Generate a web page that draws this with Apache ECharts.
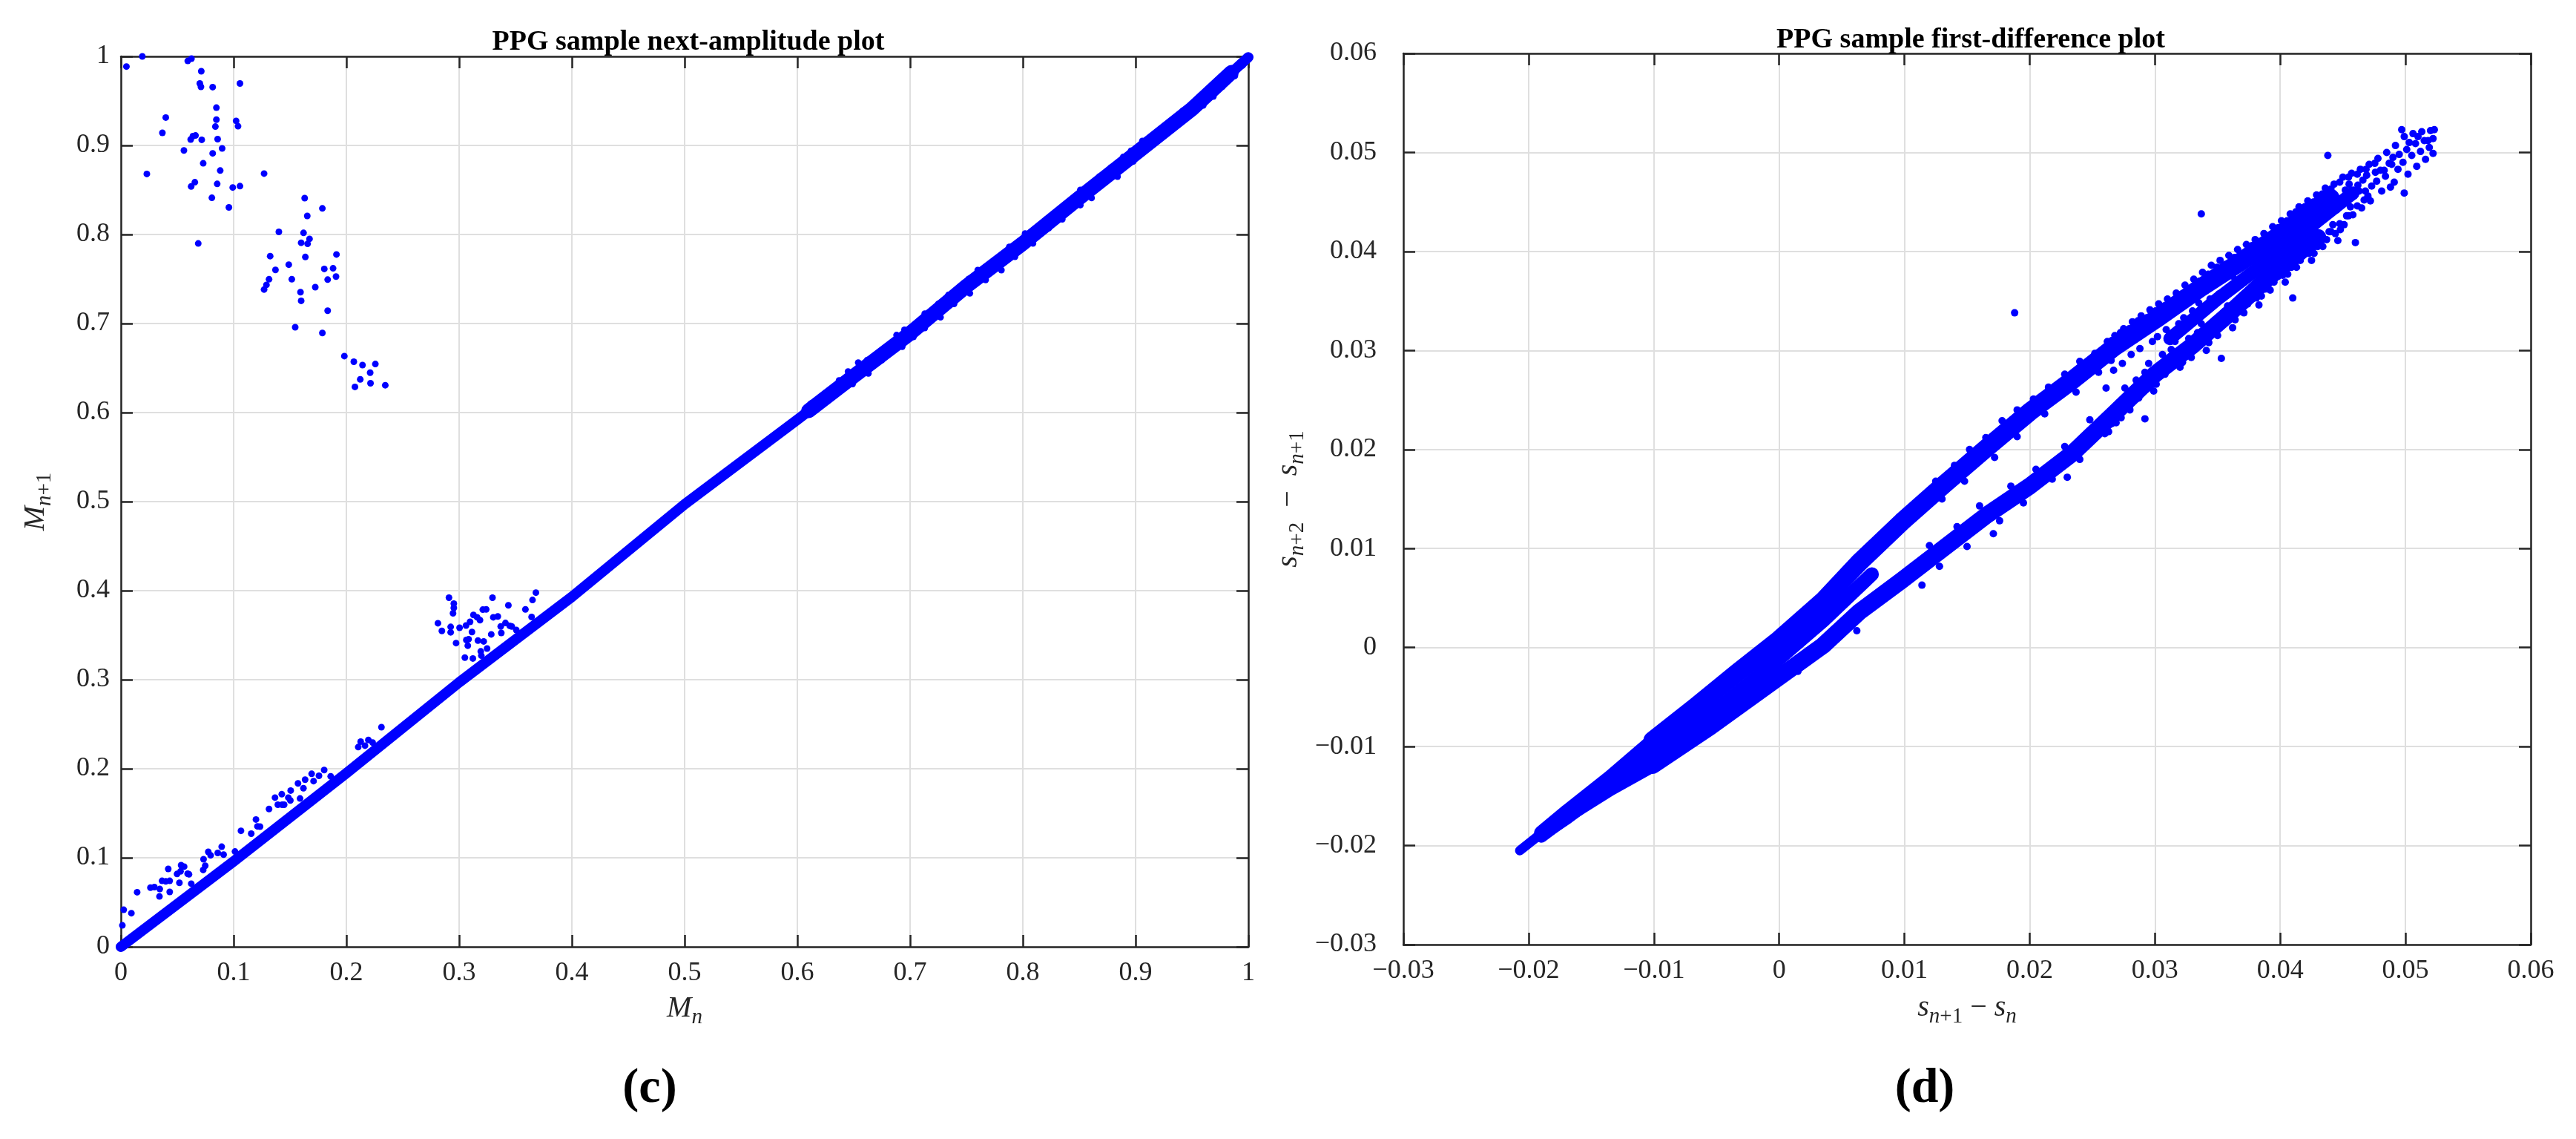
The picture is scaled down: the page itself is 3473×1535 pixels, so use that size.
<!DOCTYPE html>
<html>
<head>
<meta charset="utf-8">
<script src="https://cdn.jsdelivr.net/npm/echarts@6/dist/echarts.min.js"></script>
<style>
html,body{margin:0;padding:0;background:#fff;}
#chart{width:3473px;height:1535px;}
</style>
</head>
<body>
<div id="chart"></div>
<script>
// ---------------- DATA ----------------
// (c) next-amplitude plot : tick labels
const leftTickLabels = ['0','0.1','0.2','0.3','0.4','0.5','0.6','0.7','0.8','0.9','1'];
// (d) first-difference plot : tick labels
const rightTickLabels = ['\u22120.03','\u22120.02','\u22120.01','0','0.01','0.02','0.03','0.04','0.05','0.06'];

// dense diagonal band of M_{n+1} vs M_n (centre of the packed points)
const leftBandCore = [[0,0],[0.1,0.096],[0.2,0.195],[0.3,0.297],[0.4,0.393],[0.5,0.497],[0.6,0.592],[0.7,0.689],[0.8,0.79],[0.9,0.891],[0.95,0.941],[1,0.999]];
// thicker upper part of the band
const leftBandWide = [[0.61,0.602],[0.65,0.641],[0.70,0.689],[0.75,0.742],[0.80,0.790],[0.85,0.841],[0.90,0.891],[0.95,0.941],[0.985,0.982]];
// ragged points on the upper edge of the band
const leftEdgeUpper = [[0.654,0.656],[0.662,0.659],[0.673,0.664],[0.680,0.671],[0.688,0.687],[0.695,0.693],[0.705,0.695],[0.713,0.711],[0.725,0.722],[0.734,0.732],[0.742,0.738],[0.752,0.750],[0.760,0.760],[0.767,0.763],[0.776,0.772],[0.788,0.786],[0.802,0.801],[0.814,0.805],[0.821,0.817],[0.830,0.824],[0.841,0.836],[0.851,0.850],[0.859,0.854],[0.868,0.865],[0.878,0.875],[0.889,0.887],[0.896,0.894],[0.906,0.905],[0.913,0.909],[0.927,0.921],[0.935,0.924],[0.942,0.939],[0.952,0.939],[0.962,0.951],[0.969,0.966],[0.977,0.966],[0.983,0.978],[0.989,0.985],[0.995,0.990],[1.0,0.997],[0.612,0.610],[0.625,0.622],[0.637,0.636],[0.645,0.646]];
// ragged points on the lower edge of the band
const leftEdgeLower = [[0.649,0.632],[0.663,0.644],[0.675,0.659],[0.693,0.674],[0.703,0.685],[0.713,0.695],[0.727,0.707],[0.739,0.722],[0.753,0.734],[0.767,0.749],[0.781,0.760],[0.793,0.775],[0.809,0.790],[0.823,0.807],[0.835,0.817],[0.851,0.833],[0.861,0.841],[0.873,0.859],[0.884,0.865],[0.898,0.882],[0.910,0.897],[0.927,0.915],[0.938,0.924],[0.945,0.933],[0.960,0.945],[0.969,0.955],[0.988,0.978]];
// scattered points in the upper-left corner
const leftOutliersHigh = [[0.0049,0.9886],[0.019,1.0],[0.023,0.868],[0.0368,0.9142],[0.0398,0.9313],[0.0559,0.8944],[0.0593,0.9949],[0.0626,0.9975],[0.0619,0.9067],[0.0639,0.9104],[0.0662,0.9112],[0.0623,0.8539],[0.0656,0.8587],[0.0686,0.7899],[0.07,0.9696],[0.071,0.9658],[0.0713,0.9833],[0.0717,0.9063],[0.073,0.8799],[0.0807,0.8412],[0.0814,0.9655],[0.0814,0.8911],[0.0838,0.9212],[0.0847,0.9424],[0.0847,0.929],[0.0854,0.8568],[0.0858,0.9071],[0.0881,0.8718],[0.0898,0.8967],[0.0958,0.8304],[0.0992,0.8528],[0.1022,0.9276],[0.1039,0.9216],[0.1056,0.9696],[0.1056,0.8543],[0.127,0.8684],[0.127,0.7382],[0.1291,0.7434],[0.1314,0.7497],[0.1324,0.7757],[0.1371,0.7602],[0.1401,0.8029],[0.1489,0.7661],[0.1516,0.7497],[0.1546,0.6958],[0.1593,0.7352],[0.1599,0.7907],[0.1599,0.7255],[0.162,0.8018],[0.163,0.8408],[0.1636,0.7747],[0.1653,0.8208],[0.1656,0.7895],[0.1673,0.7951],[0.1724,0.7408],[0.1787,0.8293],[0.1787,0.6894],[0.1804,0.7613],[0.1834,0.7493],[0.1834,0.7144],[0.1882,0.762],[0.1908,0.7527],[0.1912,0.7776],[0.1982,0.6634],[0.2066,0.6571],[0.2076,0.6288],[0.2123,0.6373],[0.2143,0.6533],[0.2211,0.6448],[0.2214,0.6329],[0.2257,0.6545],[0.2345,0.6307]];
// scattered points just above the band (0 - 0.37)
const leftOutliersLow = [[0.0013,0.0241],[0.0025,0.0416],[0.0093,0.0378],[0.0144,0.0613],[0.0262,0.0665],[0.0297,0.0671],[0.0345,0.0649],[0.0342,0.0566],[0.0365,0.0741],[0.0398,0.0735],[0.0433,0.0741],[0.0433,0.0617],[0.042,0.0875],[0.0498,0.0818],[0.0529,0.0847],[0.0534,0.0917],[0.0561,0.0901],[0.0519,0.0719],[0.0592,0.0821],[0.0604,0.0814],[0.0624,0.0709],[0.0733,0.0983],[0.073,0.0863],[0.0748,0.091],[0.0775,0.1067],[0.0796,0.1028],[0.0859,0.1054],[0.0894,0.1124],[0.0911,0.1035],[0.1012,0.107],[0.1065,0.1303],[0.1156,0.1271],[0.1198,0.143],[0.1211,0.1353],[0.1234,0.135],[0.1314,0.1548],[0.1367,0.1676],[0.1392,0.1596],[0.1427,0.1714],[0.143,0.1596],[0.1448,0.1596],[0.1485,0.1676],[0.1503,0.1644],[0.1506,0.1755],[0.1571,0.1835],[0.1589,0.1666],[0.1619,0.1781],[0.1634,0.1877],[0.1692,0.1943],[0.1709,0.1861],[0.1757,0.1921],[0.1803,0.1985],[0.1861,0.1915],[0.2105,0.2243],[0.2127,0.2304],[0.2165,0.2259],[0.2195,0.2323],[0.2233,0.2294],[0.2311,0.2467],[0.2812,0.3634],[0.2847,0.3548],[0.291,0.3921],[0.2925,0.3593],[0.2925,0.3532],[0.2953,0.3854],[0.2953,0.3806],[0.2946,0.3746],[0.2973,0.3411],[0.3004,0.3583],[0.3051,0.3248],[0.3061,0.3608],[0.3064,0.3446],[0.3077,0.3382],[0.3084,0.3455],[0.3097,0.365],[0.3114,0.3535],[0.3122,0.3238],[0.3127,0.3727],[0.316,0.3701],[0.3167,0.3439],[0.3185,0.3669],[0.3192,0.3318],[0.3197,0.327],[0.3218,0.343],[0.321,0.3787],[0.324,0.379],[0.3248,0.335],[0.3285,0.3509],[0.3296,0.3921],[0.3303,0.3701],[0.3343,0.371],[0.3369,0.3598],[0.3374,0.3525],[0.3411,0.3637],[0.3437,0.3835],[0.3449,0.3605],[0.3467,0.3598],[0.3507,0.3558],[0.3588,0.379],[0.3643,0.3704],[0.3651,0.3895],[0.3681,0.3978]];

// (d) packed tracks of s_{n+2}-s_{n+1} vs s_{n+1}-s_n
const rightTip = [[-0.0207,-0.0205],[-0.0180,-0.0178]];
const rightUpperEarly = [[-0.0190,-0.0187],[-0.0169,-0.0165],[-0.0135,-0.0131],[-0.0101,-0.0094]];
const rightUpperTrack = [[-0.0101,-0.0094],[-0.0067,-0.0060],[-0.0033,-0.0025],[0.0000,0.0008],[0.0035,0.0047],[0.0064,0.0086],[0.0098,0.0127],[0.0132,0.0165],[0.0166,0.0202],[0.0200,0.0238],[0.0234,0.0270],[0.0268,0.0304],[0.0300,0.0331],[0.0336,0.0363],[0.0370,0.0391],[0.0400,0.0417],[0.0430,0.0445],[0.0440,0.0454]];
const rightInnerTrack = [[-0.0190,-0.0189],[-0.0170,-0.0172],[-0.0135,-0.0139],[-0.0101,-0.0108],[-0.0055,-0.0068],[-0.0010,-0.0022],[0.0035,0.0027],[0.0074,0.0074]];
const rightLowerEarly = [[-0.0190,-0.0190],[-0.0169,-0.0170],[-0.0135,-0.0143],[-0.0101,-0.0119]];
const rightLowerTrack = [[-0.0101,-0.0119],[-0.0055,-0.0080],[-0.0010,-0.0039],[0.0035,0.0002],[0.0064,0.0036],[0.0098,0.0068],[0.0132,0.0101],[0.0166,0.0134],[0.0200,0.0163],[0.0234,0.0196],[0.0268,0.0237],[0.0300,0.0276],[0.0330,0.0305],[0.0360,0.0338],[0.0390,0.0373],[0.0420,0.0404],[0.0430,0.0414]];
// middle of the loose cloud where the two tracks merge
const rightCloudMid = [[0.0312,0.0312],[0.0350,0.0352],[0.0400,0.0400],[0.0430,0.0431],[0.0458,0.0459]];
// ragged points on the edges of the two tracks
const rightEdgePoints = [[0.0125,0.0168],[0.0140,0.0184],[0.0152,0.0200],[0.0165,0.0212],[0.0178,0.0229],[0.0190,0.0240],[0.0203,0.0251],[0.0215,0.0263],[0.0228,0.0276],[0.0240,0.0289],[0.0252,0.0297],[0.0130,0.0150],[0.0148,0.0168],[0.0172,0.0192],[0.0190,0.0213],[0.0212,0.0236],[0.0237,0.0258],[0.0255,0.0278],[0.0120,0.0103],[0.0142,0.0122],[0.0160,0.0143],[0.0185,0.0163],[0.0205,0.0180],[0.0228,0.0203],[0.0248,0.0230],[0.0128,0.0082],[0.0150,0.0102],[0.0176,0.0128],[0.0195,0.0146],[0.0218,0.0170],[0.0240,0.0190],[0.0260,0.0216]];
// loose cloud at the upper-right end
const rightCloud = [[0.0262,0.0309],[0.0265,0.0290],[0.0261,0.0262],[0.0264,0.0231],[0.0263,0.0218],[0.0268,0.0315],[0.0270,0.0301],[0.0267,0.0280],[0.0271,0.0247],[0.0269,0.0227],[0.0275,0.0322],[0.0277,0.0306],[0.0274,0.0287],[0.0276,0.0262],[0.0278,0.0241],[0.0273,0.0232],[0.0282,0.0329],[0.0284,0.0311],[0.0281,0.0296],[0.0285,0.0270],[0.0283,0.0250],[0.0280,0.0240],[0.0289,0.0335],[0.0291,0.0319],[0.0288,0.0302],[0.0292,0.0278],[0.0290,0.0258],[0.0287,0.0252],[0.0296,0.0341],[0.0294,0.0325],[0.0298,0.0309],[0.0295,0.0287],[0.0297,0.0268],[0.0299,0.0259],[0.0303,0.0347],[0.0305,0.0330],[0.0302,0.0314],[0.0306,0.0296],[0.0304,0.0277],[0.0301,0.0266],[0.0310,0.0352],[0.0312,0.0337],[0.0309,0.0321],[0.0313,0.0301],[0.0311,0.0286],[0.0308,0.0276],[0.0317,0.0358],[0.0315,0.0344],[0.0319,0.0327],[0.0316,0.0309],[0.0318,0.0292],[0.0320,0.0283],[0.0324,0.0366],[0.0326,0.0350],[0.0323,0.0333],[0.0327,0.0312],[0.0325,0.0297],[0.0322,0.0288],[0.0331,0.0372],[0.0333,0.0356],[0.0330,0.0340],[0.0334,0.0318],[0.0332,0.0304],[0.0329,0.0293],[0.0338,0.0379],[0.0336,0.0362],[0.0340,0.0344],[0.0337,0.0327],[0.0339,0.0311],[0.0341,0.0300],[0.0345,0.0386],[0.0347,0.0369],[0.0344,0.0352],[0.0348,0.0331],[0.0346,0.0318],[0.0343,0.0308],[0.0352,0.0391],[0.0354,0.0375],[0.0351,0.0357],[0.0355,0.0339],[0.0353,0.0325],[0.0350,0.0315],[0.0359,0.0396],[0.0357,0.0381],[0.0361,0.0362],[0.0358,0.0345],[0.0360,0.0333],[0.0362,0.0323],[0.0366,0.0402],[0.0368,0.0387],[0.0365,0.0370],[0.0369,0.0352],[0.0367,0.0339],[0.0364,0.0331],[0.0373,0.0407],[0.0375,0.0393],[0.0372,0.0376],[0.0376,0.0356],[0.0374,0.0347],[0.0371,0.0338],[0.0380,0.0412],[0.0378,0.0399],[0.0382,0.0381],[0.0379,0.0364],[0.0381,0.0353],[0.0383,0.0346],[0.0387,0.0418],[0.0389,0.0404],[0.0386,0.0388],[0.0390,0.0370],[0.0388,0.0362],[0.0385,0.0355],[0.0394,0.0425],[0.0396,0.0410],[0.0393,0.0395],[0.0397,0.0376],[0.0395,0.0369],[0.0392,0.0361],[0.0401,0.0431],[0.0399,0.0417],[0.0403,0.0401],[0.0400,0.0386],[0.0402,0.0376],[0.0404,0.0369],[0.0408,0.0438],[0.0410,0.0424],[0.0407,0.0408],[0.0411,0.0392],[0.0409,0.0384],[0.0406,0.0377],[0.0415,0.0445],[0.0417,0.0430],[0.0414,0.0415],[0.0418,0.0399],[0.0416,0.0391],[0.0413,0.0384],[0.0422,0.0451],[0.0420,0.0437],[0.0424,0.0421],[0.0421,0.0405],[0.0423,0.0398],[0.0425,0.0391],[0.0429,0.0457],[0.0431,0.0443],[0.0428,0.0428],[0.0432,0.0413],[0.0430,0.0405],[0.0427,0.0398],[0.0436,0.0464],[0.0438,0.0450],[0.0435,0.0435],[0.0439,0.0420],[0.0437,0.0412],[0.0434,0.0405],[0.0443,0.0468],[0.0441,0.0456],[0.0445,0.0442],[0.0442,0.0427],[0.0444,0.0418],[0.0446,0.0411],[0.0450,0.0475],[0.0452,0.0462],[0.0449,0.0449],[0.0453,0.0436],[0.0451,0.0427],[0.0448,0.0422],[0.0457,0.0479],[0.0455,0.0468],[0.0459,0.0456],[0.0456,0.0445],[0.0458,0.0437],[0.0464,0.0483],[0.0466,0.0472],[0.0463,0.0461],[0.0467,0.0452],[0.0465,0.0444],[0.0471,0.0488],[0.0469,0.0477],[0.0473,0.0466],[0.0470,0.0456],[0.0472,0.0451],[0.0478,0.0494],[0.0480,0.0482],[0.0477,0.0471],[0.0481,0.0461],[0.0485,0.0500],[0.0487,0.0489],[0.0484,0.0476],[0.0488,0.0465],[0.0492,0.0507],[0.0490,0.0495],[0.0494,0.0483],[0.0491,0.0470],[0.0499,0.0516],[0.0501,0.0503],[0.0498,0.0490],[0.0502,0.0478],[0.0497,0.0523],[0.0506,0.0519],[0.0508,0.0509],[0.0505,0.0497],[0.0509,0.0486],[0.0513,0.0521],[0.0515,0.0512],[0.0512,0.0501],[0.0516,0.0493],[0.0520,0.0522],[0.0522,0.0514],[0.0519,0.0505],[0.0523,0.0523],
  [0.02655,0.0310],[0.02725,0.0318],[0.02795,0.0322],[0.02865,0.0330],[0.02935,0.0333],[0.03005,0.0340],[0.03075,0.0345],[0.03145,0.0349],[0.03215,0.0357],[0.03285,0.0362],[0.03355,0.0370],[0.03425,0.0377],[0.03495,0.0384],[0.03565,0.0387],[0.03635,0.0394],[0.03705,0.0397],[0.03775,0.0406],[0.03845,0.0410],[0.03915,0.0416],[0.03985,0.0424],[0.04055,0.0431],[0.04125,0.0440],[0.04195,0.0445],[0.04265,0.0450],[0.04335,0.0458],[0.04405,0.0463],[0.04475,0.0470],[0.04545,0.0475],[0.04615,0.0478],[0.04685,0.0483],[0.04755,0.0489],
  [0.02655,0.0226],[0.02725,0.0236],[0.02795,0.0242],[0.02865,0.0254],[0.02935,0.0261],[0.03005,0.0270],[0.03075,0.0279],[0.03145,0.0285],[0.03215,0.0292],[0.03285,0.0297],[0.03355,0.0306],[0.03425,0.0313],[0.03495,0.0320],[0.03565,0.0330],[0.03635,0.0336],[0.03705,0.0345],[0.03775,0.0352],[0.03845,0.0361],[0.03915,0.0369],[0.03985,0.0375],[0.04055,0.0384],[0.04125,0.0392],[0.04195,0.0398],[0.04265,0.0406],[0.04335,0.0412],[0.04405,0.0420],[0.04475,0.0428],[0.04545,0.0436],[0.04615,0.0446],
  [0.0335,0.0348],[0.0362,0.0375],[0.0385,0.0394],[0.0405,0.0412],[0.0425,0.0432],[0.0445,0.0450],[0.0462,0.0467],[0.0476,0.0480],[0.0468,0.0461],[0.0483,0.0482],[0.0495,0.0498],[0.0503,0.0510],[0.0510,0.0516],[0.0518,0.0512],[0.0489,0.0488]];
// isolated points
const rightOutliers = [[0.0337,0.0438],[0.0438,0.0497],[0.0410,0.0353],[0.0460,0.0409],[0.0353,0.0292],[0.0292,0.0231],[0.0499,0.0459],[0.0522,0.0499],[0.0188,0.0338],[0.0230,0.0172],[0.0171,0.0115],[0.0114,0.0063],[0.0062,0.0017],[0.0015,-0.0024]];

// ---------------- CHART ----------------
const FONT = "'Liberation Serif','DejaVu Serif',serif";
const AX = '#262626';
const GRIDC = '#dfdfdf';
const BLUE = '#0000ff';

const nameRich = {
  i:{fontFamily:FONT,fontStyle:'italic',fontSize:40,lineHeight:54,color:AX},
  s:{fontFamily:FONT,fontStyle:'italic',fontSize:29,lineHeight:29,verticalAlign:'bottom',color:AX},
  r:{fontFamily:FONT,fontSize:29,lineHeight:29,verticalAlign:'bottom',color:AX},
  m:{fontFamily:FONT,fontSize:40,lineHeight:54,color:AX}
};

function mainAxis(gridIndex, position, min, max, interval, fmt, name, nameGap, margin) {
  return {
    type:'value', gridIndex, position, min, max, interval,
    axisLine:{show:true, onZero:false, lineStyle:{color:AX, width:2.5}},
    axisTick:{show:true, inside:true, length:16, lineStyle:{color:AX, width:2.5}},
    axisLabel:{show:true, margin, formatter:fmt, fontFamily:FONT, fontSize:36, color:AX},
    splitLine:{show:true, lineStyle:{color:GRIDC, width:2}},
    name, nameLocation:'middle', nameGap,
    nameTextStyle:{rich:nameRich}
  };
}
function boxAxis(gridIndex, position, min, max, interval) {
  return {
    type:'value', gridIndex, position, min, max, interval,
    axisLine:{show:true, onZero:false, lineStyle:{color:AX, width:2.5}},
    axisTick:{show:true, inside:true, length:16, lineStyle:{color:AX, width:2.5}},
    axisLabel:{show:false}, splitLine:{show:false}
  };
}
const fmtLeft = v => leftTickLabels[Math.round(v / 0.1)];
const fmtRight = v => rightTickLabels[Math.round((v + 0.03) / 0.01)];

function lineSeries(xi, yi, data, width) {
  return {type:'line', xAxisIndex:xi, yAxisIndex:yi, data, symbol:'none', clip:false,
    lineStyle:{color:BLUE, width, cap:'round', join:'round'}, z:3, silent:true};
}
function scatterSeries(xi, yi, data, size) {
  return {type:'scatter', xAxisIndex:xi, yAxisIndex:yi, data, symbolSize:size, clip:false,
    itemStyle:{color:BLUE, opacity:1}, z:4, silent:true};
}

const chart = echarts.init(document.getElementById('chart'), null, {renderer:'canvas'});
chart.setOption({
  animation:false,
  backgroundColor:'#ffffff',
  title:[
    {text:'PPG sample next-amplitude plot', left:923, top:33, textAlign:'center',
     textStyle:{fontFamily:FONT, fontWeight:'bold', fontSize:38, color:'#000'}},
    {text:'PPG sample first-difference plot', left:2652, top:30, textAlign:'center',
     textStyle:{fontFamily:FONT, fontWeight:'bold', fontSize:38, color:'#000'}},
    {text:'{p|(}{b|c}{p|)}', left:871, top:1430, textAlign:'center',
     textStyle:{rich:{p:{fontFamily:FONT,fontSize:66,color:'#000'}, b:{fontFamily:FONT,fontSize:66,fontWeight:'bold',color:'#000'}}}},
    {text:'{p|(}{b|d}{p|)}', left:2590, top:1430, textAlign:'center',
     textStyle:{rich:{p:{fontFamily:FONT,fontSize:66,color:'#000'}, b:{fontFamily:FONT,fontSize:66,fontWeight:'bold',color:'#000'}}}}
  ],
  grid:[
    {left:163, top:76, width:1520, height:1200},
    {left:1892, top:72, width:1520, height:1201}
  ],
  xAxis:[
    mainAxis(0,'bottom',0,1,0.1,fmtLeft,'{i|M}{s|n}',56,18),
    boxAxis(0,'top',0,1,0.1),
    mainAxis(1,'bottom',-0.03,0.06,0.01,fmtRight,'{i|s}{s|n}{r|+1}{m| \u2212 }{i|s}{s|n}',58,18),
    boxAxis(1,'top',-0.03,0.06,0.01)
  ],
  yAxis:[
    mainAxis(0,'left',0,1,0.1,fmtLeft,'{i|M}{s|n}{r|+1}',88,15),
    boxAxis(0,'right',0,1,0.1),
    mainAxis(1,'left',-0.03,0.06,0.01,fmtRight,'{i|s}{s|n}{r|+2}{m|  \u2212  }{i|s}{s|n}{r|+1}',128,36),
    boxAxis(1,'right',-0.03,0.06,0.01)
  ],
  series:[
    lineSeries(0,0,leftBandCore,14),
    lineSeries(0,0,leftBandWide,20),
    scatterSeries(0,0,leftEdgeUpper,9),
    scatterSeries(0,0,leftEdgeLower,9),
    scatterSeries(0,0,leftOutliersHigh,9),
    scatterSeries(0,0,leftOutliersLow,9),
    lineSeries(2,2,rightTip,13),
    lineSeries(2,2,rightUpperEarly,19),
    lineSeries(2,2,rightUpperTrack,25),
    lineSeries(2,2,rightInnerTrack,19),
    lineSeries(2,2,rightLowerEarly,19),
    lineSeries(2,2,rightLowerTrack,23),
    lineSeries(2,2,rightCloudMid,18),
    scatterSeries(2,2,rightEdgePoints,10),
    scatterSeries(2,2,rightCloud,10),
    scatterSeries(2,2,rightOutliers,10)
  ]
});
</script>
</body>
</html>
